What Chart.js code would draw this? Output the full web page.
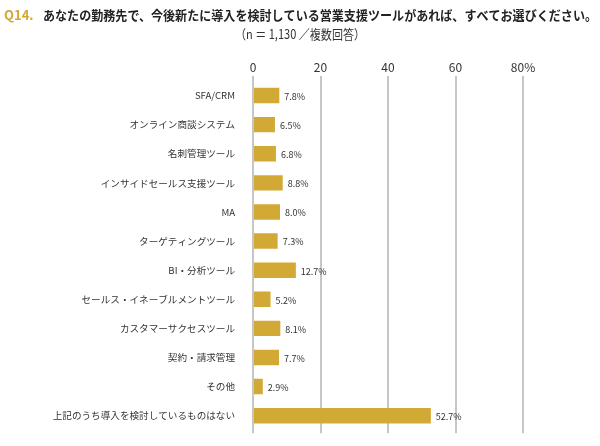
<!DOCTYPE html>
<html>
<head>
<meta charset="utf-8">
<script src="https://cdn.jsdelivr.net/npm/chart.js@4"></script>
<style>
  html, body { margin: 0; padding: 0; background: #fff; }
  #wrap { width: 600px; height: 446px; }
</style>
</head>
<body>
<div id="wrap"><canvas id="chart" width="600" height="446"></canvas></div>
<script>
// Q14 営業支援ツール
const categories = [
  "SFA/CRM",
  "オンライン商談システム",
  "名刺管理ツール",
  "インサイドセールス支援ツール",
  "MA",
  "ターゲティングツール",
  "BI・分析ツール",
  "セールス・イネーブルメントツール",
  "カスタマーサクセスツール",
  "契約・請求管理",
  "その他",
  "上記のうち導入を検討しているものはない"
];
const values = [7.8, 6.5, 6.8, 8.8, 8.0, 7.3, 12.7, 5.2, 8.1, 7.7, 2.9, 52.7];
const xTicks = [0, 20, 40, 60, 80];

const FONT = "'Noto Sans CJK JP', 'Noto Sans', sans-serif";
const GOLD = "#d3a935";
const GRID = "#c6c6c6";

const titlePlugin = {
  id: "titleText",
  afterDraw(chart) {
    const ctx = chart.ctx;
    ctx.save();
    ctx.textBaseline = "middle";
    ctx.textAlign = "left";
    ctx.font = "bold 13px " + FONT;
    ctx.fillStyle = GOLD;
    ctx.fillText("Q14.", 4, 15, 34);
    ctx.fillStyle = "#222";
    ctx.fillText("あなたの勤務先で、今後新たに導入を検討している営業支援ツールがあれば、すべてお選びください。", 43, 15, 554);
    ctx.font = "13px " + FONT;
    ctx.fillStyle = "#333";
    ctx.textAlign = "center";
    ctx.fillText("（n ＝ 1,130 ／複数回答）", 300, 34, 130);
    ctx.restore();
  }
};

const valueLabels = {
  id: "valueLabels",
  afterDatasetsDraw(chart) {
    const ctx = chart.ctx;
    const meta = chart.getDatasetMeta(0);
    ctx.save();
    ctx.font = "9px " + FONT;
    ctx.fillStyle = "#333";
    ctx.textAlign = "left";
    ctx.textBaseline = "middle";
    meta.data.forEach((bar, i) => {
      ctx.fillText(values[i].toFixed(1) + "%", bar.x + 5, bar.y + 1);
    });
    ctx.restore();
  }
};

// extend the vertical grid lines a little past the bottom of the plot
const gridTail = {
  id: "gridTail",
  beforeDatasetsDraw(chart) {
    const ctx = chart.ctx;
    const x = chart.scales.x;
    const bottom = chart.chartArea.bottom;
    ctx.save();
    ctx.strokeStyle = GRID;
    ctx.lineWidth = 2;
    xTicks.forEach(v => {
      const px = Math.round(x.getPixelForValue(v));
      ctx.beginPath();
      ctx.moveTo(px, bottom - 1);
      ctx.lineTo(px, bottom + 3);
      ctx.stroke();
    });
    ctx.restore();
  }
};

new Chart(document.getElementById("chart"), {
  type: "bar",
  data: {
    labels: categories,
    datasets: [{
      data: values,
      backgroundColor: GOLD,
      borderWidth: 0,
      barPercentage: 0.53,
      categoryPercentage: 1.0
    }]
  },
  options: {
    indexAxis: "y",
    responsive: false,
    animation: false,
    layout: { padding: { left: 0, right: 77, top: 0, bottom: 14 } },
    plugins: {
      legend: { display: false },
      tooltip: { enabled: false }
    },
    scales: {
      x: {
        position: "top",
        min: 0,
        max: 80,
        afterBuildTicks(scale) {
          scale.ticks = xTicks.map(v => ({ value: v }));
        },
        afterFit(scale) { scale.height = 81; },
        grid: {
          color: GRID,
          lineWidth: 2,
          drawTicks: true,
          tickLength: 5,
          tickColor: GRID
        },
        border: { display: false },
        ticks: {
          padding: 1,
          color: "#333",
          font: { family: FONT, size: 12 },
          callback: v => v === 80 ? "80%" : String(v)
        }
      },
      y: {
        afterFit(scale) { scale.width = 253; },
        grid: { display: false },
        border: { display: false },
        ticks: {
          padding: 10,
          color: "#333",
          font: { family: FONT, size: 9.6 }
        }
      }
    }
  },
  plugins: [titlePlugin, valueLabels, gridTail]
});
</script>
</body>
</html>
